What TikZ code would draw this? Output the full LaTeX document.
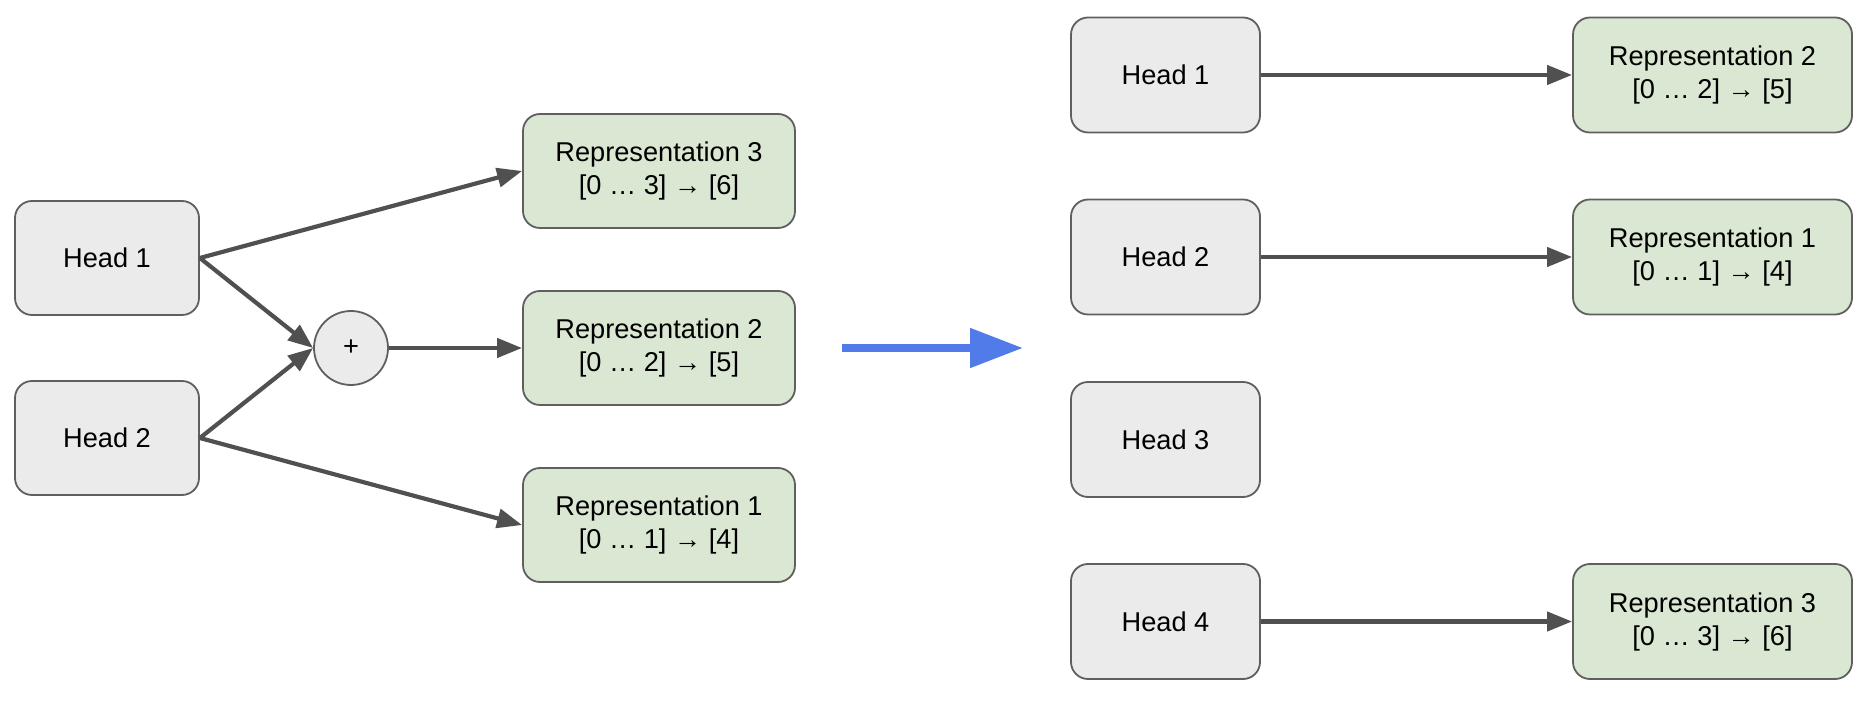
\documentclass[tikz,border=0pt]{standalone}
\usepackage{fontspec}
\setmainfont{Liberation Sans}
\usetikzlibrary{arrows.meta}
\definecolor{headfill}{HTML}{EBEBEB}
\definecolor{repfill}{HTML}{D9E7D3}
\definecolor{boxline}{HTML}{5F5F5F}
\definecolor{arrowcol}{HTML}{505050}
\definecolor{bluearrow}{HTML}{527BEA}
\begin{document}
\begin{tikzpicture}[x=0.5pt,y=-0.5pt,
  box/.style={draw=boxline, line width=0.9pt, rounded corners=8.5pt, inner sep=0pt,
    align=center, font=\fontsize{13.6}{16.5}\selectfont, text=black},
  headL/.style={box, fill=headfill, minimum width=92pt, minimum height=57pt},
  headR/.style={box, fill=headfill, minimum width=94.5pt, minimum height=57.5pt},
  repL/.style={box, fill=repfill, minimum width=136pt, minimum height=57pt},
  repR/.style={box, fill=repfill, minimum width=139.5pt, minimum height=57.5pt},
  plusnode/.style={circle, draw=boxline, line width=0.9pt, fill=headfill, minimum size=37pt,
    inner sep=0pt, font=\fontsize{13.6}{16}\selectfont},
  arr/.style={draw=arrowcol, line width=2.1pt, -{Triangle[length=12.5pt,width=9.5pt]}},
  bigarr/.style={draw=bluearrow, line width=4pt, -{Triangle[length=26.5pt,width=19pt]}}
]
\useasboundingbox (0,0) rectangle (1866,704);

% left side
\node[headL] (H1L) at (107,258) {Head 1};
\node[headL] (H2L) at (107,438) {Head 2};
\node[plusnode] (plus) at (351,348) {+};
\node[repL] (R3L) at (659,171) {Representation 3\\{}[0 … 3] → [6]};
\node[repL] (R2L) at (659,348) {Representation 2\\{}[0 … 2] → [5]};
\node[repL] (R1L) at (659,525) {Representation 1\\{}[0 … 1] → [4]};

\draw[arr] (H1L.east) -- (R3L.west);
\draw[arr] (H1L.east) -- (plus.west);
\draw[arr] (H2L.east) -- (plus.west);
\draw[arr] (H2L.east) -- (R1L.west);
\draw[arr] (plus.east) -- (R2L.west);

% big arrow
\coordinate (BA1) at (842,348);
\coordinate (BA2) at (1023,348);
\draw[bigarr] (BA1) -- (BA2);

% right side
\node[headR] (H1R) at (1165.5,75) {Head 1};
\node[headR] (H2R) at (1165.5,257) {Head 2};
\node[headR] (H3R) at (1165.5,439.5) {Head 3};
\node[headR] (H4R) at (1165.5,621.5) {Head 4};
\node[repR] (R2R) at (1712.5,75) {Representation 2\\{}[0 … 2] → [5]};
\node[repR] (R1R) at (1712.5,257) {Representation 1\\{}[0 … 1] → [4]};
\node[repR] (R3R) at (1712.5,621.5) {Representation 3\\{}[0 … 3] → [6]};

\draw[arr] (H1R.east) -- (R2R.west);
\draw[arr] (H2R.east) -- (R1R.west);
\draw[arr] (H4R.east) -- (R3R.west);
\end{tikzpicture}
\end{document}
